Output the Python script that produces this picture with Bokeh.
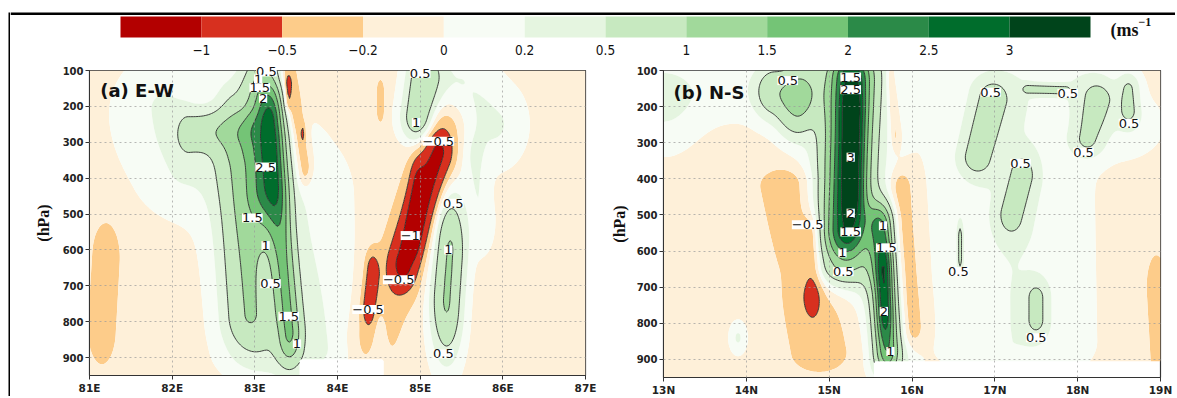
import numpy as np
from bokeh.plotting import figure
from bokeh.models import Range1d, FixedTicker
from bokeh.layouts import row, column
from bokeh.core.properties import value
from bokeh.embed import file_html
from bokeh.resources import INLINE

# ---------------- colour scale ----------------
bounds = [-1, -0.5, -0.2, 0, 0.2, 0.5, 1, 1.5, 2, 2.5, 3]
bound_labels = ["\u22121", "\u22120.5", "\u22120.2", "0", "0.2", "0.5", "1", "1.5", "2", "2.5", "3"]
colors = ["#b30000", "#d7301f", "#fdcc8a", "#fef0d9", "#f7fcf5", "#e5f5e0",
          "#c7e9c0", "#a1d99b", "#74c476", "#2b8a48", "#006d2c", "#00441b"]
line_levels = [-1, -0.5, 0.5, 1, 1.5, 2, 2.5, 3]
units_main, units_sup = "(ms", "\u22121"

# ---------------- axes ----------------
p_ticks = [100, 200, 300, 400, 500, 600, 700, 800, 900]
p_top, p_bottom = 100, 950
a_lon_ticks = [81, 82, 83, 84, 85, 86, 87]
a_lon_labels = ["81E", "82E", "83E", "84E", "85E", "86E", "87E"]
b_lat_ticks = [13, 14, 15, 16, 17, 18, 19]
b_lat_labels = ["13N", "14N", "15N", "16N", "17N", "18N", "19N"]

# ---------------- panel (a) E-W : wind-anomaly features ----------------
a_base = -0.07
a_lon1 = [83.12, 83.20, 82.82, 82.20, 83.00, 85.22, 84.97, 85.30, 84.42, 83.40, 83.40, 83.58, 81.20, 84.52, 85.05, 85.50, 85.36, 85.65, 84.50, 81.90, 81.90, 83.90, 83.15, 82.75]
a_p1   = [250,   240,   350,   275,   300,   330,   420,   250,   660,   110,   140,   275,   620,   160,   120,   150,   600,   350,   820,   200,   250,   450,   100,   180]
a_lon2 = [83.14, 83.42, 82.92, 82.90, 83.30, 84.80, 84.92, 84.45, 84.38, 83.60, 83.40, 83.58, 81.15, 84.52, 84.98, 85.90, 85.32, 85.75, 84.50, 82.10, 81.90, 83.90, 83.15, 82.95]
a_p2   = [420,   830,   780,   255,   880,   640,   540,   850,   760,   370,   185,   275,   820,   210,   230,   250,   740,   520,   900,   380,   250,   850,   150,   130]
a_wlon = [0.15,  0.10,  0.20,  0.10,  0.42,  0.12,  0.06,  0.20,  0.06,  0.07,  0.03,  0.02,  0.12,  0.04,  0.14,  0.25,  0.13,  0.10,  0.08,  0.30,  0.60,  0.25,  0.14,  0.15]
a_wp   = [85,    60,    70,    40,    60,    50,    50,    60,    40,    40,    20,    20,    70,    30,    50,    80,    110,   60,    50,    80,    150,   100,   40,    50]
a_amp  = [1.45,  1.25,  0.8,   0.6,   0.42, -0.85, -0.5,  -0.3,  -0.6,  -0.45, -0.4,  -0.35, -0.35, -0.25, 1.0,   0.3,   1.12,  0.25,  0.25,  0.2,   0.1,   0.12,  0.5,   0.4]
a_missing_lon = [83.55, 84.55]
a_missing_p = 905

a_lab_lon = [83.14, 83.04, 83.06, 83.10, 83.13, 82.97, 83.13, 83.19, 83.41, 83.51, 85.00, 84.95, 85.22, 84.88, 84.74, 84.37, 85.40, 85.34, 85.28]
a_lab_p   = [104,   124,   148,   178,   369,   511,   588,   694,   785,   862,   108,   245,   297,   560,   683,   766,   470,   600,   890]
a_lab_txt = ["0.5", "1", "1.5", "2", "2.5", "1.5", "1", "0.5", "1.5", "1", "0.5", "1", "\u22120.5", "\u22121", "\u22120.5", "\u22120.5", "0.5", "1", "0.5"]

# ---------------- panel (b) N-S ----------------
b_base = -0.07
b_lat1 = [15.27, 15.28, 15.25, 15.30, 15.62, 15.66, 15.55, 14.32, 14.64, 13.00, 13.00, 14.50, 14.79, 15.87, 15.74, 18.95, 16.97, 17.33, 17.40, 18.24, 18.62, 16.58, 17.50, 17.20, 18.20, 13.90]
b_p1   = [130,   220,   110,   100,   540,   660,   520,   160,   150,   150,   200,   420,   560,   430,   120,   700,   180,   390,   152,   180,   150,   560,   730,   150,   150,   840]
b_lat2 = [15.20, 15.28, 15.12, 15.20, 15.70, 15.67, 15.75, 14.62, 14.58, 14.80, 13.00, 14.88, 14.80, 16.00, 15.80, 19.00, 16.78, 17.20, 17.85, 18.12, 18.62, 16.58, 17.50, 17.25, 18.60, 13.90]
b_p2   = [540,   430,   640,   650,   870,   760,   900,   175,   235,   150,   200,   880,   710,   810,   280,   900,   340,   500,   155,   290,   210,   620,   790,   850,   250,   840]
b_wlat = [0.17,  0.09,  0.26,  0.40,  0.10,  0.06,  0.18,  0.15,  0.14,  0.40,  0.30,  0.25,  0.08,  0.10,  0.04,  0.08,  0.15,  0.11,  0.05,  0.14,  0.09,  0.025, 0.09,  0.60,  0.30,  0.07]
b_wp   = [60,    70,    40,    60,    50,    60,    40,    50,    45,    70,    90,    40,    45,    40,    30,    60,    38,    38,    9,     35,    30,    30,    30,    80,    60,    30]
b_amp  = [2.0,   1.2,   0.65,  0.2,   1.5,   1.0,   0.45,  0.75,  0.45,  0.17,  0.22, -0.33, -0.42, -0.38, -0.3,  -0.4,   0.6,   0.6,   0.6,   0.55,  0.5,   0.55,  0.5,   0.27,  0.2,   0.3]
b_missing_lat = [15.55, 19.0]
b_missing_p = 905

b_lab_lat = [14.50, 15.26, 15.26, 15.26, 15.26, 14.74, 15.26, 15.16, 15.17, 15.65, 15.69, 15.66, 15.74, 16.95, 17.88, 18.62, 18.07, 17.31, 16.56, 17.50]
b_lab_p   = [128,   118,   153,   340,   495,   527,   547,   605,   657,   530,   591,   767,   878,   160,   163,   246,   326,   357,   657,   840]
b_lab_txt = ["0.5", "1.5", "2.5", "3", "2", "\u22120.5", "1.5", "1", "0.5", "1", "1.5", "2", "1", "0.5", "0.5", "0.5", "0.5", "0.5", "0.5", "0.5"]

LINE_COL = "#2b2b2b"


def build_field(xs, ps, base, x1, p1, x2, p2, wx, wp, amp, miss_x, miss_p):
    X, P = np.meshgrid(xs, ps)
    Z = np.full(X.shape, base, dtype=float)
    for k in range(len(amp)):
        ax, ap = x1[k] / wx[k], p1[k] / wp[k]
        bx, bp = x2[k] / wx[k], p2[k] / wp[k]
        U, V = X / wx[k], P / wp[k]
        dx, dp = bx - ax, bp - ap
        L2 = dx * dx + dp * dp
        if L2 == 0:
            t = 0.0
        else:
            t = np.clip(((U - ax) * dx + (V - ap) * dp) / L2, 0, 1)
        d2 = (U - ax - t * dx) ** 2 + (V - ap - t * dp) ** 2
        Z += amp[k] * np.exp(-0.5 * d2)
    mask = (X >= miss_x[0]) & (X <= miss_x[1]) & (P > miss_p)
    Z[mask] = np.nan
    return Z


def make_panel(xs_range, ticks, tick_labels, z_args, labs, title, frame_w, frame_h,
               mb_left, mb_right, mb_top, mb_bottom, ylab_standoff, title_pos):
    p = figure(frame_width=frame_w, frame_height=frame_h, output_backend="svg", toolbar_location=None,
               x_range=Range1d(*xs_range), y_range=Range1d(p_bottom, p_top),
               min_border_left=mb_left, min_border_right=mb_right,
               min_border_top=mb_top, min_border_bottom=mb_bottom,
               background_fill_color="white", border_fill_color="white")
    xs = np.linspace(xs_range[0], xs_range[1], 301)
    ps = np.arange(p_top, p_bottom + 1, 5.0)
    Z = build_field(xs, ps, *z_args)
    levels = [-100] + bounds + [100]
    p.contour(xs, ps, Z, levels, fill_color=colors, line_color=None)
    p.contour(xs, ps, Z, line_levels, fill_color=None, line_color=LINE_COL, line_width=0.9)
    t = p.text(x=labs[0], y=labs[1], text=labs[2], text_align="center", text_baseline="middle",
               text_font=value("DejaVu Sans"), text_font_size="13px", text_color="#111111",
               background_fill_color="white", padding=0)
    t.level = "overlay"
    tt = p.text(x=[title_pos[0]], y=[title_pos[1]], text=[title], text_align="left", text_baseline="middle",
                text_font=value("DejaVu Sans"), text_font_style="bold", text_font_size="18px",
                text_color="#111111")
    tt.level = "overlay"
    p.xaxis.ticker = FixedTicker(ticks=ticks)
    p.xaxis.major_label_overrides = {k: v for k, v in zip(ticks, tick_labels)}
    p.yaxis.ticker = FixedTicker(ticks=p_ticks)
    for ax in (p.xaxis[0], p.yaxis[0]):
        ax.major_label_text_font = "DejaVu Sans"
        ax.major_label_text_font_style = "bold"
        ax.major_label_text_color = "#222222"
        ax.major_tick_out = 4
        ax.major_tick_in = 0
        ax.minor_tick_line_color = None
        ax.axis_line_color = "#333333"
        ax.major_tick_line_color = "#333333"
        ax.major_label_standoff = 2
    p.xaxis.major_label_text_font_size = "10.5px"
    p.yaxis.major_label_text_font_size = "10px"
    p.yaxis.axis_label = "(hPa)"
    p.yaxis.axis_label_text_font = "Liberation Serif"
    p.yaxis.axis_label_text_font_style = "bold"
    p.yaxis.axis_label_text_font_size = "16px"
    p.yaxis.axis_label_text_color = "#111111"
    p.yaxis.axis_label_standoff = ylab_standoff
    p.outline_line_color = "#333333"
    p.outline_line_width = 1.2
    for g in (p.xgrid[0], p.ygrid[0]):
        g.grid_line_color = "#9a9a9a"
        g.grid_line_dash = "2 3"
        g.grid_line_alpha = 0.7
        g.level = "annotation"
    return p


def bare(p):
    p.xaxis.visible = False
    p.yaxis.visible = False
    p.xgrid.visible = False
    p.ygrid.visible = False
    return p


pa = make_panel((81, 87), a_lon_ticks, a_lon_labels,
                (a_base, a_lon1, a_p1, a_lon2, a_p2, a_wlon, a_wp, a_amp, a_missing_lon, a_missing_p),
                (a_lab_lon, a_lab_p, a_lab_txt), "(a) E-W",
                frame_w=496, frame_h=305, mb_left=79, mb_right=15, mb_top=6, mb_bottom=27,
                ylab_standoff=8, title_pos=(81.13, 155))
pb = make_panel((13, 19), b_lat_ticks, b_lat_labels,
                (b_base, b_lat1, b_p1, b_lat2, b_p2, b_wlat, b_wp, b_amp, b_missing_lat, b_missing_p),
                (b_lab_lat, b_lab_p, b_lab_txt), "(b) N-S",
                frame_w=497, frame_h=307, mb_left=63, mb_right=15, mb_top=12, mb_bottom=19,
                ylab_standoff=6, title_pos=(13.12, 160))

# ---------------- colour bar (pixel-like y units, box units along x) ----------------
n = len(colors)
CB_W, CB_H, CB_LEFT, BAR_W = 1165, 58, 110, 970
box_px = BAR_W / n
cb = figure(frame_width=CB_W, frame_height=CB_H, output_backend="svg", toolbar_location=None,
            x_range=Range1d(-CB_LEFT / box_px, (CB_W - CB_LEFT) / box_px),
            y_range=Range1d(CB_H, 0),
            min_border_left=0, min_border_right=0, min_border_top=0, min_border_bottom=0,
            outline_line_color=None, background_fill_color="white", border_fill_color="white")
bare(cb)
# top edge line of the whole figure
cb.quad(left=[-CB_LEFT / box_px], right=[(CB_W - CB_LEFT) / box_px], top=[12], bottom=[14.5],
        fill_color="black", line_color=None)
cb.quad(left=list(range(n)), right=list(range(1, n + 1)), bottom=37, top=16,
        fill_color=colors, line_color=None)
cb.text(x=list(range(1, n)), y=[49] * (n - 1), text=bound_labels, text_align="center",
        text_baseline="middle",
        text_font=value("Liberation Sans Narrow, DejaVu Sans Condensed, sans-serif"),
        text_font_size="13.5px", text_color="#111111")
cb.text(x=[n + 20 / box_px], y=[29], text=[units_main], text_align="left", text_baseline="middle",
        text_font=value("Liberation Serif"), text_font_style="bold", text_font_size="18px",
        text_color="#111111")
cb.text(x=[n + 48 / box_px], y=[21], text=[units_sup], text_align="left", text_baseline="middle",
        text_font=value("Liberation Serif"), text_font_style="bold", text_font_size="12px",
        text_color="#111111")

# left edge line of the whole figure
LS_W, LS_H = 10, CB_H + 338
left_strip = figure(frame_width=LS_W, frame_height=LS_H, output_backend="svg", toolbar_location=None,
                    x_range=Range1d(0, LS_W), y_range=Range1d(LS_H, 0),
                    min_border_left=0, min_border_right=0, min_border_top=0, min_border_bottom=0,
                    outline_line_color=None, background_fill_color="white", border_fill_color="white")
bare(left_strip)
left_strip.quad(left=[8], right=[10], top=[12], bottom=[LS_H], fill_color="black", line_color=None)

layout = row(left_strip, column(cb, row(pa, pb)))

open("out.html", "w").write(file_html(layout, INLINE))
